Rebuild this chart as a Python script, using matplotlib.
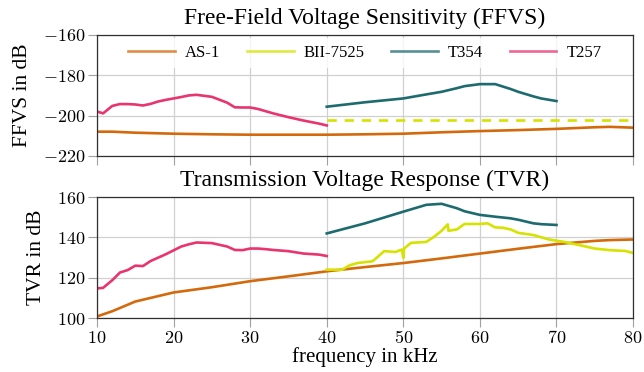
import numpy as np
import matplotlib.pyplot as plt
from matplotlib.ticker import FuncFormatter, MultipleLocator

plt.rcParams['font.family'] = ['Liberation Serif', 'DejaVu Serif']
plt.rcParams['mathtext.fontset'] = 'cm'

#---------Data
as1_f = [10, 12, 15, 20, 25, 30, 35, 40, 45, 50, 55, 60, 65, 70, 75, 77, 80]
as1_ffvs = [-208.0, -208.0, -208.5, -209.0, -209.3, -209.5, -209.5, -209.5, -209.3, -209.0,
            -208.3, -207.7, -207.2, -206.6, -205.8, -205.6, -206.0]
as1_tvr = [100.8, 103.4, 108.2, 112.7, 115.3, 118.3, 120.7, 123.2, 125.3, 127.3,
           129.6, 132.0, 134.4, 136.7, 138.3, 138.7, 139.0]

bii_ffvs_f = [40, 80]
bii_ffvs = [-202.1, -202.1]
bii_tvr_f = [40, 42, 43, 44, 46, 47.5, 49, 49.8, 50.0, 50.1, 51, 53, 54, 55, 55.8, 55.9,
             57, 58, 60, 61, 62, 63, 64, 65, 67, 69, 71, 73, 75, 77, 79, 80]
bii_tvr = [124.0, 124.0, 126.2, 127.3, 128.2, 133.2, 132.8, 134.0, 129.8, 134.5, 137.3, 137.8,
           140.3, 143.3, 146.5, 143.3, 144.0, 146.7, 146.7, 147.0, 145.0, 144.8, 144.0, 142.3,
           141.2, 139.0, 137.8, 136.2, 134.5, 133.7, 133.3, 132.3]

t354_f = [40, 45, 50, 53, 55, 57, 58, 60, 62, 64, 65, 67, 68, 70]
t354_ffvs = [-195.6, -193.4, -191.5, -189.5, -188.2, -186.4, -185.4, -184.4, -184.4, -186.8,
             -188.2, -190.5, -191.5, -192.8]
t354_tvr = [142.0, 147.0, 152.8, 156.2, 156.7, 154.5, 153.0, 151.2, 150.3, 149.5, 148.8,
            147.0, 146.6, 146.2]

t257_f = [10, 10.8, 12, 13, 14, 15, 16, 17, 18, 19, 20, 21, 22, 23, 25, 27, 28, 29, 30, 31,
          32, 33, 35, 37, 39, 40]
t257_ffvs = [-198.0, -198.9, -195.2, -194.3, -194.3, -194.5, -195.0, -194.2, -193.0, -192.2,
             -191.5, -190.8, -190.0, -189.7, -190.7, -193.6, -195.9, -196.0, -196.0, -196.7,
             -197.8, -198.9, -200.8, -202.5, -204.0, -204.9]
t257_tvr = [114.7, 115.0, 118.8, 122.6, 123.8, 126.0, 125.8, 128.3, 130.0, 131.7, 133.6, 135.5,
            136.6, 137.5, 137.2, 135.5, 133.8, 133.7, 134.5, 134.5, 134.2, 133.8, 133.2, 132.0,
            131.5, 130.8]

c_as1 = '#d4690c'
c_bii = '#d6e200'
c_t354 = '#1e6b6f'
c_t257 = '#e8346f'

fig = plt.figure(figsize=(6.44, 3.72), dpi=100)
ax1 = fig.add_axes([0.1506, 0.581, 0.8324, 0.325])
ax2 = fig.add_axes([0.1506, 0.145, 0.8324, 0.325])

fmt = FuncFormatter(lambda v, p: r'$%g$' % v)
for ax in (ax1, ax2):
    ax.set_xlim(10, 80)
    ax.xaxis.set_major_locator(MultipleLocator(10))
    ax.yaxis.set_major_locator(MultipleLocator(20))
    ax.xaxis.set_major_formatter(fmt)
    ax.yaxis.set_major_formatter(fmt)
    ax.grid(True, color='#d0d0d0', linewidth=0.9)
    ax.set_axisbelow(True)
    ax.tick_params(direction='out', length=6.5, width=0.8, color='#a0a0a0', labelsize=13, pad=2)
    for s in ax.spines.values():
        s.set_color('#303030')
        s.set_linewidth(0.9)

lw = 1.9
ax1.plot(as1_f, as1_ffvs, color=c_as1, lw=lw, label='AS-1')
ax1.plot(bii_ffvs_f, bii_ffvs, color=c_bii, lw=lw, ls=(0, (3.5, 3)), label='BII-7525')
ax1.plot(t354_f, t354_ffvs, color=c_t354, lw=lw, label='T354')
ax1.plot(t257_f, t257_ffvs, color=c_t257, lw=lw, label='T257')
ax1.set_ylim(-220, -160)
ax1.tick_params(labelbottom=False)
ax1.set_ylabel('FFVS in dB', fontsize=15.5, labelpad=8)
ax1.set_title('Free-Field Voltage Sensitivity (FFVS)', fontsize=17, pad=8)

h1, = ax1.plot([], [], color=c_as1, lw=lw, alpha=0.75)
h2, = ax1.plot([], [], color=c_bii, lw=lw, alpha=0.75)
h3, = ax1.plot([], [], color=c_t354, lw=lw, alpha=0.75)
h4, = ax1.plot([], [], color=c_t257, lw=lw, alpha=0.75)
leg = ax1.legend([h1, h2, h3, h4], ['AS-1', 'BII-7525', 'T354', 'T257'], loc='upper center',
                 ncol=4, fontsize=12, frameon=True, framealpha=0.8, edgecolor='none',
                 fancybox=False, handlelength=2.8, columnspacing=1.6, handletextpad=0.6,
                 borderaxespad=0.2, bbox_to_anchor=(0.5, 1.0))

ax2.plot(as1_f, as1_tvr, color=c_as1, lw=lw)
ax2.plot(bii_tvr_f, bii_tvr, color=c_bii, lw=lw)
ax2.plot(t354_f, t354_tvr, color=c_t354, lw=lw)
ax2.plot(t257_f, t257_tvr, color=c_t257, lw=lw)
ax2.set_ylim(100, 160)
ax2.set_ylabel('TVR in dB', fontsize=15.5, labelpad=8)
ax2.set_title('Transmission Voltage Response (TVR)', fontsize=17, pad=8)
ax2.set_xlabel('frequency in kHz', fontsize=15, labelpad=0)

fig.savefig('out.png', dpi=100)
